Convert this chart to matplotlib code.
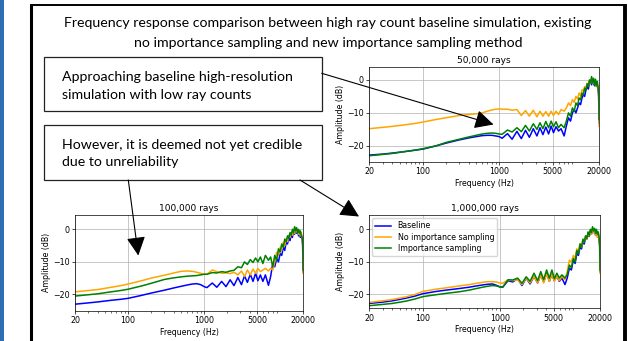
import matplotlib
matplotlib.use('Agg')
import matplotlib.pyplot as plt
from matplotlib.patches import Rectangle, FancyArrowPatch, ArrowStyle
from matplotlib.lines import Line2D
from matplotlib.ticker import FixedLocator, FixedFormatter, LogLocator, NullFormatter

# ---------------- data ----------------
freqs = [20, 30, 40, 60, 80, 100, 150, 200, 300, 400, 500, 600, 700, 800, 900, 1000,
         1090, 1280, 1470, 1700, 1940, 2200, 2470, 2780, 3100, 3400, 3710, 4050, 4400,
         4750, 5100, 5500, 5930, 6400, 7020,
         7500, 8000, 8500, 9000, 9500, 10000, 10500, 11000, 11500, 12000, 12500, 13000,
         13500, 14000, 14500, 15000, 15500, 16000, 16500, 17000, 17500, 18000, 18500,
         19000, 19500, 19800, 20000]

series_names = ["Baseline", "No importance sampling", "Importance sampling"]
series_colors = ["blue", "orange", "green"]

# 50,000 rays
blue_50k = [-22.8, -22.5, -22.2, -21.7, -21.3, -21.0, -20.0, -19.2, -18.2, -17.6, -17.2, -16.9, -16.8, -16.8, -17.0, -17.2,
            -17.7, -16.3, -18.0, -15.6, -17.8, -15.3, -17.4, -14.8, -17.0, -14.5, -16.6, -14.3, -16.4, -14.0, -16.0, -14.2, -15.5, -14.8, -17.0,
            -14.0, -11.5, -12.5, -10.0, -9.0, -10.0, -8.5, -7.0, -7.5, -5.5, -4.5, -5.0, -3.0, -2.0, -2.8, -1.0, -0.5, -1.5, 0.0, -1.0, -1.8, -0.8, -2.0, -1.5, -3.0, -5.0, -13.0]
orange_50k = [-14.8, -14.4, -14.1, -13.6, -13.2, -12.8, -12.0, -11.5, -10.8, -10.5, -10.3, -10.0, -9.5, -9.1, -8.9, -8.8,
              -8.9, -8.9, -9.2, -9.0, -10.8, -9.3, -11.0, -9.2, -11.2, -9.5, -11.0, -9.6, -11.0, -9.5, -10.8, -9.5, -10.5, -9.0, -9.5,
              -8.5, -7.0, -7.8, -6.0, -6.8, -5.0, -5.8, -4.0, -4.8, -3.0, -3.5, -2.0, -2.5, -1.0, -1.8, -0.5, -1.2, 0.5, -0.5, -1.0, -0.2, -1.5, -2.0, -1.2, -3.0, -4.5, -14.0]
green_50k = [-23.0, -22.6, -22.3, -21.7, -21.3, -20.9, -20.0, -19.0, -18.0, -17.3, -16.8, -16.4, -16.2, -16.1, -16.2, -16.4,
             -16.5, -15.2, -15.8, -14.5, -15.7, -13.8, -15.5, -13.3, -15.0, -13.0, -14.8, -12.6, -14.5, -12.5, -14.2, -12.7, -14.5, -13.5, -14.5,
             -12.5, -10.0, -11.0, -8.5, -9.5, -7.0, -7.8, -5.5, -6.0, -4.0, -4.5, -2.5, -3.2, -1.2, -2.0, 0.0, -1.0, 1.0, -0.8, 0.5, -1.5, 0.2, -1.8, -0.5, -2.5, -4.0, -12.0]

# 100,000 rays
blue_100k = [-23.0, -22.6, -22.3, -21.8, -21.5, -21.2, -20.3, -19.6, -18.7, -18.0, -17.5, -17.1, -16.8, -16.7, -17.0, -17.6,
             -17.9, -16.5, -17.8, -16.0, -17.6, -15.5, -17.3, -14.8, -17.0, -14.3, -16.3, -13.8, -16.0, -13.5, -15.8, -14.0, -16.0, -14.0, -17.2,
             -14.5, -10.5, -11.5, -9.0, -10.0, -7.5, -8.0, -5.5, -6.5, -4.0, -4.5, -2.5, -3.5, -1.5, -2.5, -0.5, -1.5, 0.0, -1.2, -0.5, -2.0, -1.0, -2.5, -1.5, -3.0, -5.0, -13.0]
orange_100k = [-19.2, -18.8, -18.5, -17.8, -17.3, -16.8, -15.8, -15.0, -14.1, -13.4, -12.9, -12.8, -12.9, -13.2, -13.5, -13.8,
               -13.8, -12.5, -13.0, -13.5, -13.4, -13.6, -13.2, -14.0, -12.8, -14.5, -12.5, -14.0, -12.2, -13.5, -12.0, -13.0, -12.5, -12.0, -12.8,
               -12.0, -12.5, -10.0, -7.0, -8.0, -5.5, -6.5, -4.0, -5.0, -3.0, -3.8, -1.8, -2.5, -1.0, -1.8, -0.2, -1.2, 0.5, -0.8, -0.2, -1.5, -0.5, -2.0, -1.0, -3.0, -4.5, -13.5]
green_100k = [-20.5, -20.1, -19.8, -19.2, -18.8, -18.4, -17.4, -16.6, -15.4, -14.9, -14.6, -14.4, -14.3, -14.2, -14.0, -13.8,
              -13.8, -13.3, -13.4, -13.0, -13.2, -12.8, -12.6, -11.5, -11.8, -10.0, -10.8, -9.3, -10.2, -8.8, -10.0, -8.5, -10.5, -8.0, -9.5,
              -8.5, -11.5, -8.0, -9.5, -6.0, -7.0, -4.5, -5.5, -3.0, -3.8, -2.0, -2.8, -1.0, -1.8, 0.0, -1.0, 0.8, -0.5, 0.5, -1.0, 0.0, -1.2, -0.5, -2.0, -2.5, -4.0, -12.5]

# 1,000,000 rays
blue_1m = [-22.8, -22.4, -22.0, -21.2, -20.5, -19.8, -19.1, -18.7, -18.2, -17.8, -17.4, -17.1, -16.9, -16.8, -17.2, -17.7,
           -17.8, -15.8, -16.2, -15.2, -17.3, -15.0, -16.8, -14.5, -16.5, -14.0, -16.2, -13.5, -16.0, -13.8, -15.8, -14.5, -16.0, -15.0, -17.0,
           -15.0, -12.0, -12.5, -9.5, -10.5, -7.5, -8.0, -5.5, -6.0, -4.0, -4.5, -2.5, -3.0, -1.5, -2.2, -0.5, -1.5, 0.0, -1.0, -0.5, -1.8, -0.8, -2.2, -1.5, -3.5, -5.0, -13.0]
orange_1m = [-22.5, -22.0, -21.6, -20.8, -20.0, -19.1, -18.4, -18.0, -17.4, -17.0, -16.6, -16.3, -16.1, -16.1, -16.2, -16.5,
             -16.6, -15.5, -15.8, -15.5, -17.0, -15.0, -16.5, -14.5, -16.5, -14.0, -16.5, -13.8, -16.0, -13.8, -16.0, -14.5, -15.8, -14.5, -15.5,
             -13.0, -9.5, -10.0, -8.0, -9.0, -6.0, -7.0, -4.5, -5.5, -3.5, -4.0, -2.0, -3.0, -1.0, -2.0, -0.5, -1.5, 0.2, -1.0, -0.2, -1.8, -0.5, -2.5, -1.2, -3.5, -5.0, -13.5]
green_1m = [-23.5, -23.1, -22.8, -22.1, -21.4, -20.7, -20.1, -19.7, -19.2, -18.7, -18.2, -17.8, -17.5, -17.3, -17.4, -17.7,
            -17.8, -15.5, -15.6, -15.0, -16.6, -14.6, -16.0, -13.5, -15.8, -13.0, -15.5, -12.5, -15.0, -12.5, -15.2, -13.5, -15.0, -14.0, -15.0,
            -14.0, -11.0, -11.8, -9.0, -10.0, -6.5, -7.5, -4.5, -5.5, -3.0, -4.0, -2.0, -2.8, -0.8, -1.8, 0.0, -1.0, 0.8, -0.5, 0.3, -1.2, 0.0, -1.5, -0.8, -2.8, -4.5, -12.5]

xtick_values = [20, 100, 1000, 5000, 20000]
xtick_labels = ["20", "100", "1000", "5000", "20000"]
ytick_values = [0, -10, -20]

panel_titles = ["50,000 rays", "100,000 rays", "1,000,000 rays"]
title_lines = ["Frequency response comparison between high ray count baseline simulation, existing",
               "no importance sampling and new importance sampling method"]
box1_lines = ["Approaching baseline high-resolution", "simulation with low ray counts"]
box2_lines = ["However, it is deemed not yet credible", "due to unreliability"]

# ---------------- figure ----------------
W, H = 628, 341
fig = plt.figure(figsize=(W / 100, H / 100), dpi=100)
fig.patch.set_facecolor('white')


def fx(x):
    return x / W


def fy(y):
    return 1 - y / H


TICK_FS = 5.7
TITLE_FS = 6.5


def make_ax(l, r, t, b, title, ylim, data, legend=False):
    ax = fig.add_axes([fx(l), fy(b), (r - l) / W, (b - t) / H])
    for vals, c, lab in zip(data, series_colors, series_names):
        ax.plot(freqs, vals, color=c, lw=1.1, label=lab)
    ax.set_xscale('log')
    ax.set_xlim(20, 20000)
    ax.set_ylim(*ylim)
    ax.xaxis.set_major_locator(FixedLocator(xtick_values))
    ax.xaxis.set_major_formatter(FixedFormatter(xtick_labels))
    ax.xaxis.set_minor_locator(LogLocator(base=10, subs=[2, 3, 4, 5, 6, 7, 8, 9], numticks=20))
    ax.xaxis.set_minor_formatter(NullFormatter())
    ax.set_yticks(ytick_values)
    ax.grid(True, which='major', color='#b0b0b0', lw=0.5)
    ax.tick_params(which='major', labelsize=TICK_FS, length=2.1, width=0.5, pad=2)
    ax.tick_params(which='minor', length=1.2, width=0.4)
    for s in ax.spines.values():
        s.set_linewidth(0.5)
    ax.set_xlabel("Frequency (Hz)", fontsize=TICK_FS, labelpad=2)
    ax.set_ylabel("Amplitude (dB)", fontsize=TICK_FS, labelpad=1.5)
    ax.set_title(title, fontsize=TITLE_FS, pad=3)
    if legend:
        ax.legend(loc='upper left', fontsize=TICK_FS, handlelength=2.0,
                  borderpad=0.4, labelspacing=0.3, framealpha=0.8, borderaxespad=0.4)
    return ax


make_ax(369, 599, 67, 161.7, panel_titles[0], (-24.8, 3.9), [blue_50k, orange_50k, green_50k])
make_ax(75, 303, 215, 310.7, panel_titles[1], (-25.0, 4.4), [blue_100k, orange_100k, green_100k])
make_ax(369, 600, 215, 308, panel_titles[2], (-24.2, 4.4), [blue_1m, orange_1m, green_1m], legend=True)

# ---------------- slide decorations ----------------
fig.add_artist(Rectangle((0, 0), 4 / W, 1, transform=fig.transFigure,
                         facecolor='#2E6DB4', edgecolor='none', zorder=20))
frame_kw = dict(transform=fig.transFigure, color='black', zorder=20, solid_capstyle='butt')
fig.add_artist(Line2D([fx(30.5), fx(30.5)], [fy(4.5), 0], lw=2.2, **frame_kw))
fig.add_artist(Line2D([fx(29.5), fx(624)], [fy(5), fy(5)], lw=1.4, **frame_kw))
fig.add_artist(Line2D([fx(625), fx(625)], [fy(4.2), 0], lw=2.8, **frame_kw))

# text font fitting
TEXT_FAMILY = ['Lato', 'DejaVu Sans']
renderer = fig.canvas.get_renderer()
probe = fig.text(0, 0, title_lines[0], fontsize=10, family=TEXT_FAMILY)
wpx = probe.get_window_extent(renderer).width
probe.remove()
text_fs = 10 * 530 / wpx

fig.text(fx(328), fy(27), title_lines[0], ha='center', va='baseline', fontsize=text_fs, family=TEXT_FAMILY)
fig.text(fx(328), fy(47), title_lines[1], ha='center', va='baseline', fontsize=text_fs, family=TEXT_FAMILY)

for (top, bot, lines, base) in [(57, 111.5, box1_lines, 81), (125, 180, box2_lines, 148.5)]:
    fig.add_artist(Rectangle((fx(43.5), fy(bot)), (322 - 43.5) / W, (bot - top) / H,
                             transform=fig.transFigure, fill=False, edgecolor='#222222', lw=0.9, zorder=15))
    for i, ln in enumerate(lines):
        fig.text(fx(62), fy(base + 18 * i), ln, ha='left', va='baseline', fontsize=text_fs, family=TEXT_FAMILY)

# arrows
astyle = ArrowStyle('-|>', head_length=1.15, head_width=0.58)
for (a, b) in [((321.7, 73.3), (493.5, 124.5)),
               ((128.3, 180.0), (138.3, 255.5)),
               ((300.0, 180.0), (359.0, 216.5))]:
    fig.add_artist(FancyArrowPatch(posA=(fx(a[0]), fy(a[1])), posB=(fx(b[0]), fy(b[1])),
                                   transform=fig.transFigure, arrowstyle=astyle, mutation_scale=10,
                                   lw=0.8, color='black', shrinkA=0, shrinkB=0, zorder=25))

fig.savefig('out.png', dpi=100, facecolor='white')
